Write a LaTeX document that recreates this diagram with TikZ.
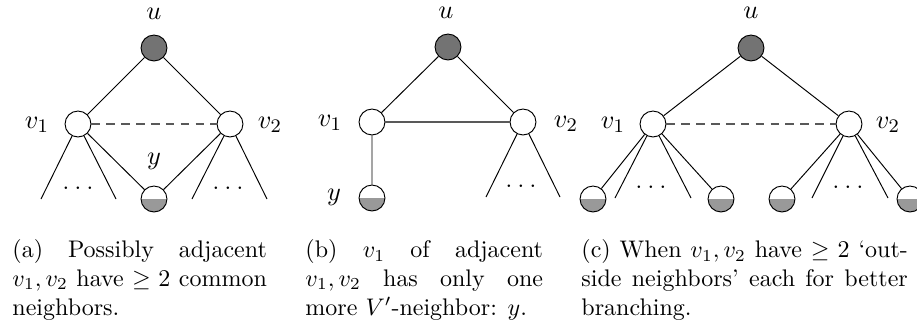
\documentclass[tikz,border=0pt]{standalone}
\usepackage{amsmath,amssymb}
\usetikzlibrary{positioning}

\tikzset{
  vtx/.style={circle,draw,fill=white,inner sep=0pt,minimum size=10.8pt},
  root/.style={vtx,fill=black!55},
  half/.style={vtx,path picture={\fill[black!40] (path picture bounding box.west) rectangle (path picture bounding box.south east);}},
  maybe/.style={draw=black!65,line width=0.55pt,dash pattern=on 3.6pt off 2.6pt},
  sure/.style={draw=black!65,line width=0.6pt},
  lab/.style={inner sep=0pt,font=\fontsize{11}{13}\selectfont},
  capt/.style={anchor=north west,inner sep=0pt,align=justify},
}
\newcommand{\more}{.\kern2pt.\kern2pt.}

\begin{document}
\begin{tikzpicture}[x=0.4167pt,y=-0.4167pt]
  \useasboundingbox (0,0) rectangle (917,326);

  % (a) common neighbors
  \node[root] (ua) at (154,48) {};
  \node[vtx] (v1a) at (78,124) {};
  \node[vtx] (v2a) at (230,124) {};
  \node[half] (ya) at (154,199) {};
  \node[lab] (ua-l) at (154,14) {$u$};
  \node[lab] (v1a-l) at (37,125) {$v_1$};
  \node[lab] (v2a-l) at (270,125) {$v_2$};
  \node[lab] (ya-l) at (154,161) {$y$};
  \coordinate (la1) at (41,199);
  \coordinate (la2) at (116,199);
  \coordinate (la3) at (192,199);
  \coordinate (la4) at (267,199);
  \node[lab] (da1) at (78,188) {\more};
  \node[lab] (da2) at (228,188) {\more};
  \draw (ua) -- (v1a) (ua) -- (v2a) (v1a) -- (ya) (v2a) -- (ya);
  \draw (v1a) -- (la1) (v1a) -- (la2) (v2a) -- (la3) (v2a) -- (la4);
  \draw[maybe] (v1a) -- (v2a);

  % (b) only one more neighbor
  \node[root] (ub) at (448,47) {};
  \node[vtx] (v1b) at (372,122) {};
  \node[vtx] (v2b) at (523,122) {};
  \node[half] (yb) at (372,198) {};
  \node[lab] (ub-l) at (446,13) {$u$};
  \node[lab] (v1b-l) at (330,123) {$v_1$};
  \node[lab] (v2b-l) at (566,124) {$v_2$};
  \node[lab] (yb-l) at (334,197) {$y$};
  \coordinate (lb1) at (486,197);
  \coordinate (lb2) at (560,197);
  \node[lab] (db) at (521,186) {\more};
  \draw (ub) -- (v1b) (ub) -- (v2b) (v1b) -- (yb);
  \draw (v2b) -- (lb1) (v2b) -- (lb2);
  \draw[sure] (v1b) -- (v2b);

  % (c) outside neighbors
  \node[root] (uc) at (751,48) {};
  \node[vtx] (v1c) at (653,124) {};
  \node[vtx] (v2c) at (849,124) {};
  \node[lab] (uc-l) at (751,13) {$u$};
  \node[lab] (v1c-l) at (613,125) {$v_1$};
  \node[lab] (v2c-l) at (888,125) {$v_2$};
  \node[half] (wc1) at (593,199) {};
  \node[half] (wc2) at (721,199) {};
  \node[half] (wc3) at (782,199) {};
  \node[half] (wc4) at (910,199) {};
  \coordinate (lc1) at (615,198);
  \coordinate (lc2) at (691,198);
  \coordinate (lc3) at (812,198);
  \coordinate (lc4) at (888,198);
  \node[lab] (dc1) at (651,187) {\more};
  \node[lab] (dc2) at (848,187) {\more};
  \draw (uc) -- (v1c) (uc) -- (v2c);
  \draw (v1c) -- (wc1) (v1c) -- (wc2) (v2c) -- (wc3) (v2c) -- (wc4);
  \draw (v1c) -- (lc1) (v1c) -- (lc2) (v2c) -- (lc3) (v2c) -- (lc4);
  \draw[maybe] (v1c) -- (v2c);

  % captions
  \node[capt,text width=106pt] (capa) at (12,239)
    {(a) Possibly adjacent\linebreak $v_1,v_2$ have $\geq 2$ common\linebreak neighbors.};
  \node[capt,text width=99pt] (capb) at (305,239)
    {(b) $v_1$ of adjacent\linebreak $v_1,v_2$ has only one\linebreak more $V'$-neighbor: $y$.};
  \node[capt,text width=136pt] (capc) at (581,239)
    {(c) When $v_1,v_2$ have $\geq 2$ `out-\linebreak side neighbors' each for better\linebreak branching.};
\end{tikzpicture}
\end{document}
